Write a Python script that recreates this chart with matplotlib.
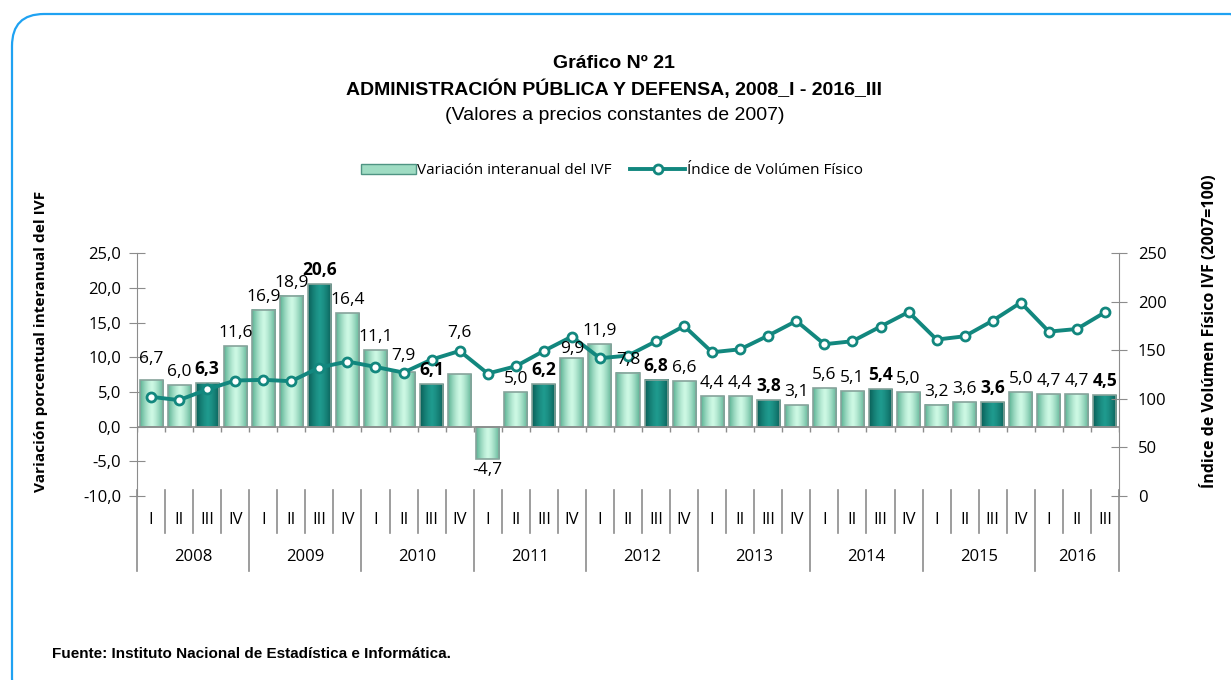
import numpy as np
import matplotlib
matplotlib.use('Agg')
import matplotlib.pyplot as plt
from matplotlib.patches import FancyBboxPatch, Rectangle
from matplotlib.lines import Line2D
from matplotlib.transforms import blended_transform_factory
from matplotlib.colors import to_rgb

plt.rcParams['font.family'] = ['Open Sans', 'DejaVu Sans']

# --- data -------------------------------------------------------------
years = ['2008', '2009', '2010', '2011', '2012', '2013', '2014', '2015', '2016']
quarters = ['I', 'II', 'III', 'IV']
variacion = [6.7, 6.0, 6.3, 11.6, 16.9, 18.9, 20.6, 16.4, 11.1, 7.9, 6.1, 7.6,
             -4.7, 5.0, 6.2, 9.9, 11.9, 7.8, 6.8, 6.6, 4.4, 4.4, 3.8, 3.1,
             5.6, 5.1, 5.4, 5.0, 3.2, 3.6, 3.6, 5.0, 4.7, 4.7, 4.5]
ivf = [102.2, 98.8, 109.8, 119.0, 119.7, 118.3, 132.4, 138.6, 133.0, 127.2,
       140.6, 149.5, 126.2, 133.7, 149.5, 164.3, 142.0, 144.7, 159.5, 175.2,
       148.1, 151.2, 165.3, 180.4, 156.4, 159.5, 174.6, 189.6, 161.2, 164.6,
       180.7, 199.3, 169.4, 172.1, 189.3]
left_ticks = [-10, -5, 0, 5, 10, 15, 20, 25]
right_ticks = [0, 50, 100, 150, 200, 250]

n = len(variacion)
x = np.arange(n)
q_labels = [quarters[i % 4] for i in range(n)]
highlight = [i % 4 == 2 for i in range(n)]   # third quarters in dark teal

AXIS_GRAY = '#8c8c8c'
TEAL = '#12877e'
W = 0.82
FS = 12
# labels that were moved by hand in the original so they clear the line
label_nudge = {0: 8, 9: 3, 11: 28, 15: -4}


def gradient(edge, center, steps=40):
    e, c = np.array(to_rgb(edge)), np.array(to_rgb(center))
    t = np.abs(np.linspace(-1, 1, steps)) ** 1.4
    return (c[None, :] * (1 - t[:, None]) + e[None, :] * t[:, None])[None, :, :]


grad_light = gradient('#5cb394', '#cdf8e4')
grad_dark = gradient('#0a5f58', '#1f9a8e')

W_PX, H_PX = 1231, 680
fig = plt.figure(figsize=(W_PX / 100, H_PX / 100), dpi=100)

# rounded blue frame
frame = FancyBboxPatch((0.12, -0.3), 12.5, 6.66 + 0.3,
                       boxstyle='round,pad=0,rounding_size=0.32',
                       transform=fig.dpi_scale_trans, facecolor='none',
                       edgecolor='#1fa2f2', linewidth=1.6, zorder=-1)
fig.patches.append(frame)

ax = fig.add_axes([137 / W_PX, 1 - 496 / H_PX, (1119 - 137) / W_PX, (496 - 253.4) / H_PX])
ax.patch.set_visible(False)
ax2 = ax.twinx()

# bars with horizontal shading
for xi, v, hl in zip(x, variacion, highlight):
    ax.imshow(grad_dark if hl else grad_light, extent=[xi - W / 2, xi + W / 2, min(0, v), max(0, v)],
              aspect='auto', interpolation='bilinear', zorder=2)
ax.bar(x, variacion, width=W, fill=False, edgecolor='#86a39b', linewidth=1.2, zorder=3)

ax.set_xlim(-0.5, n - 0.5)
ax.set_ylim(-10, 25)
ax.set_yticks(left_ticks)
ax.set_yticklabels([f'{t:.1f}'.replace('.', ',') for t in left_ticks], fontsize=FS)
ax.set_xticks([])
for s in ['top', 'bottom', 'right']:
    ax.spines[s].set_visible(False)
ax.spines['left'].set_color(AXIS_GRAY)
ax.tick_params(axis='y', direction='inout', length=11, color=AXIS_GRAY, pad=6)

# zero line with small ticks at each category boundary
ax.axhline(0, color=AXIS_GRAY, linewidth=1.2, zorder=4)
ax.vlines(np.arange(n + 1) - 0.5, -0.7, 0, color=AXIS_GRAY, linewidth=1.0, zorder=4)

# index line on right axis
ax2.plot(x, ivf, color=TEAL, linewidth=2.8, marker='o', markersize=6.5,
         markerfacecolor='white', markeredgecolor=TEAL, markeredgewidth=2, zorder=5)
ax2.set_ylim(0, 250)
ax2.set_yticks(right_ticks)
ax2.set_yticklabels([str(t) for t in right_ticks], fontsize=FS)
for s in ['top', 'bottom', 'left']:
    ax2.spines[s].set_visible(False)
ax2.spines['right'].set_color(AXIS_GRAY)
ax2.tick_params(axis='y', direction='inout', length=11, color=AXIS_GRAY, pad=8)

# value labels (on top of everything)
for i, (xi, v, hl) in enumerate(zip(x, variacion, highlight)):
    txt = f'{v:.1f}'.replace('.', ',')
    if v >= 0:
        ax2.annotate(txt, (xi, v), xycoords=ax.transData, xytext=(0, 5 + label_nudge.get(i, 0)),
                     textcoords='offset pixels', ha='center', va='bottom', fontsize=12.5,
                     fontweight='bold' if hl else 'normal', zorder=6)
    else:
        ax2.annotate(txt, (xi, v), xycoords=ax.transData, xytext=(0, -3),
                     textcoords='offset pixels', ha='center', va='top', fontsize=12.5, zorder=6)

# multi-level category axis below the plot
trans = blended_transform_factory(ax.transData, ax.transAxes)


def yfrac(py):
    return (496 - py) / (496 - 253.4)


for b in range(n + 1):
    bottom = 571 if (b % 4 == 0 or b == n) else 533
    ax.plot([b - 0.5, b - 0.5], [yfrac(490), yfrac(bottom)], transform=trans,
            color=AXIS_GRAY, linewidth=1.2, clip_on=False)
for xi, q in zip(x, q_labels):
    ax.text(xi, yfrac(520), q, transform=trans, ha='center', va='center', fontsize=FS)
for k, yr in enumerate(years):
    start = 4 * k
    end = min(4 * k + 3, n - 1)
    ax.text((start + end) / 2, yfrac(557), yr, transform=trans, ha='center', va='center', fontsize=FS)

# axis titles
fig.text(41 / W_PX, 1 - 341 / H_PX, 'Variación porcentual interanual del IVF', rotation=90,
         ha='center', va='center', fontsize=11.1, fontweight='bold')
fig.text(1209 / W_PX, 1 - 331 / H_PX, 'Índice de Volúmen Físico IVF (2007=100)', rotation=90,
         ha='center', va='center', fontsize=11.5, fontweight='bold')

# titles
title_font = ['Liberation Sans Narrow', 'Liberation Sans', 'DejaVu Sans']
fig.text(0.499, 1 - 63 / H_PX, 'Gráfico Nº 21', ha='center', va='center', fontsize=14,
         fontweight='bold', family=title_font)
fig.text(0.499, 1 - 89 / H_PX, 'ADMINISTRACIÓN PÚBLICA Y DEFENSA, 2008_I - 2016_III', ha='center',
         va='center', fontsize=14, fontweight='bold', family=title_font)
fig.text(0.499, 1 - 116 / H_PX, '(Valores a precios constantes de 2007)', ha='center', va='center',
         fontsize=14, family=title_font)
fig.text(52 / W_PX, 1 - 654 / H_PX, 'Fuente: Instituto Nacional de Estadística e Informática.',
         ha='left', va='center', fontsize=11, fontweight='bold', family=title_font)

# legend
h_bar = Rectangle((0, 0), 1, 1, facecolor='#9fdcc3', edgecolor='#4f9483', linewidth=1)
h_line = Line2D([], [], color=TEAL, linewidth=2.8, marker='o', markersize=6.5,
                markerfacecolor='white', markeredgecolor=TEAL, markeredgewidth=2)
fig.legend([h_bar, h_line], ['Variación interanual del IVF', 'Índice de Volúmen Físico'],
           loc='center', bbox_to_anchor=(0.497, 1 - 171 / H_PX), ncol=2, frameon=False,
           fontsize=11, handlelength=3.6, handleheight=0.6, handletextpad=0.1, columnspacing=1.2)

fig.savefig('out.png', dpi=100)
